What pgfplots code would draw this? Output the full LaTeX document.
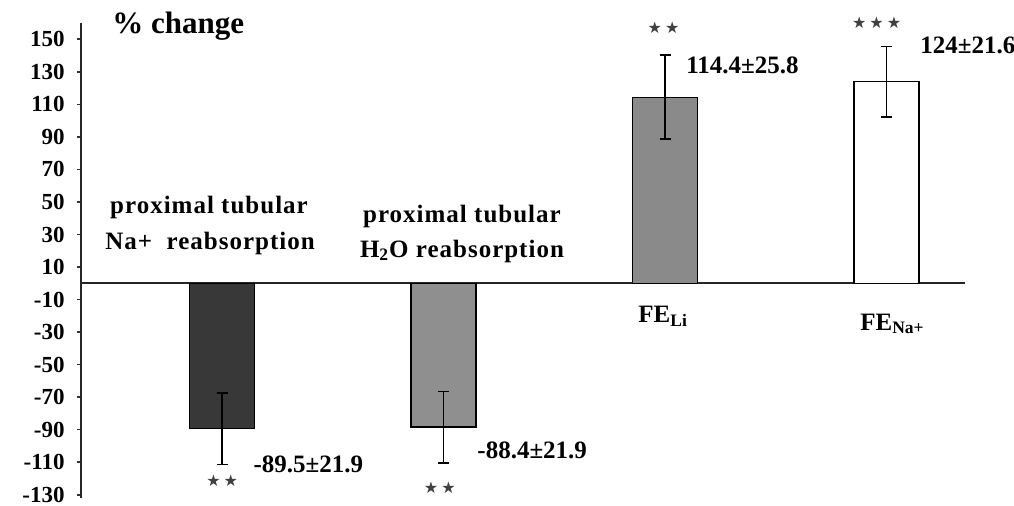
\documentclass[border=0pt]{standalone}
\usepackage{pgfplots}
\pgfplotsset{compat=1.18}
\usepackage{fontspec}
\setmainfont{Liberation Serif}
\newfontfamily\lblfont[LetterSpace=4]{Liberation Serif}
\newfontfamily\symfont{DejaVu Sans}
\definecolor{barA}{HTML}{383838}
\definecolor{barB}{HTML}{8F8F8F}
\definecolor{barC}{HTML}{8A8A8A}
\tikzset{lbl/.style={font=\bfseries\fontsize{12.5}{14}\selectfont, inner sep=0pt},
  cat/.style={font=\lblfont\bfseries\fontsize{12.5}{14}\selectfont, inner sep=0pt},
  stars/.style={font=\symfont\fontsize{8}{9}\selectfont, inner sep=0pt, text=black!75}}
\begin{document}
\begin{tikzpicture}
\useasboundingbox (0,0) rectangle (507pt,252.5pt);
\begin{axis}[
  at={(40.5pt,3.5pt)}, anchor=south west,
  scale only axis, width=442pt, height=237.5pt,
  xmin=-0.637, xmax=3.354, ymin=-132, ymax=160,
  axis x line=middle, axis y line=left,
  axis line style={-, line width=0.8pt, black!85},
  xtick=\empty,
  ytick={-130,-110,...,150},
  tick align=outside, major tick length=2pt,
  tick style={line width=0.8pt, black!80},
  /pgf/number format/assume math mode=true,
  yticklabel style={font=\bfseries\fontsize{11.5}{14}\selectfont, anchor=east, inner sep=0pt, xshift=-6pt},
  clip=false,
  bar width=32.5pt,
  error bars/error bar style={line width=0.9pt, black},
  error bars/error mark options={rotate=90, mark size=2.75pt, line width=0.9pt, black},
]
\addplot[ybar, bar shift=0pt, fill=barA, draw=black, line width=0.6pt,
  error bars/.cd, y dir=both, y explicit] coordinates {(0,-89.5) +- (0,21.9)};
\addplot[ybar, bar shift=0pt, fill=barB, draw=black, line width=0.6pt,
  error bars/.cd, y dir=both, y explicit] coordinates {(1,-88.4) +- (0,21.9)};
\addplot[ybar, bar shift=0pt, fill=barC, draw=black, line width=0.6pt,
  error bars/.cd, y dir=both, y explicit] coordinates {(2,114.4) +- (0,25.8)};
\addplot[ybar, bar shift=0pt, fill=white, draw=black, line width=0.6pt,
  error bars/.cd, y dir=both, y explicit] coordinates {(3,124) +- (0,21.6)};

\node[anchor=base west, inner sep=0pt, font=\bfseries\fontsize{15.5}{18}\selectfont] at (axis cs:-0.497,153.7) {\% change};

\node[cat, anchor=base] at (axis cs:-0.059,43.0) {proximal tubular};
\node[cat, anchor=base] at (axis cs:-0.054,20.9) {Na+\ \ reabsorption};
\node[cat, anchor=base] at (axis cs:1.083,37.5) {proximal tubular};
\node[cat, anchor=base] at (axis cs:1.083,16.0) {H\textsubscript{2}O reabsorption};
\node[lbl, anchor=base west] at (axis cs:1.878,-24.0) {FE\textsubscript{Li}};
\node[lbl, anchor=base west] at (axis cs:2.880,-28.9) {FE\textsubscript{Na+}};

\node[lbl, anchor=base west] at (axis cs:0.140,-116.2) {-89.5±21.9};
\node[lbl, anchor=base west] at (axis cs:1.151,-107.6) {-88.4±21.9};
\node[lbl, anchor=base west] at (axis cs:2.094,129.1) {114.4±25.8};
\node[lbl, anchor=base west] at (axis cs:3.151,141.4) {124±21.6};

\node[stars] at (axis cs:0,-121.7) {★\hspace{1.5pt}★};
\node[stars] at (axis cs:0.983,-126) {★\hspace{1.5pt}★};
\node[stars] at (axis cs:1.993,157.3) {★\hspace{1.5pt}★};
\node[stars] at (axis cs:2.955,160.4) {★\hspace{1.5pt}★\hspace{1.5pt}★};
\end{axis}
\end{tikzpicture}
\end{document}
